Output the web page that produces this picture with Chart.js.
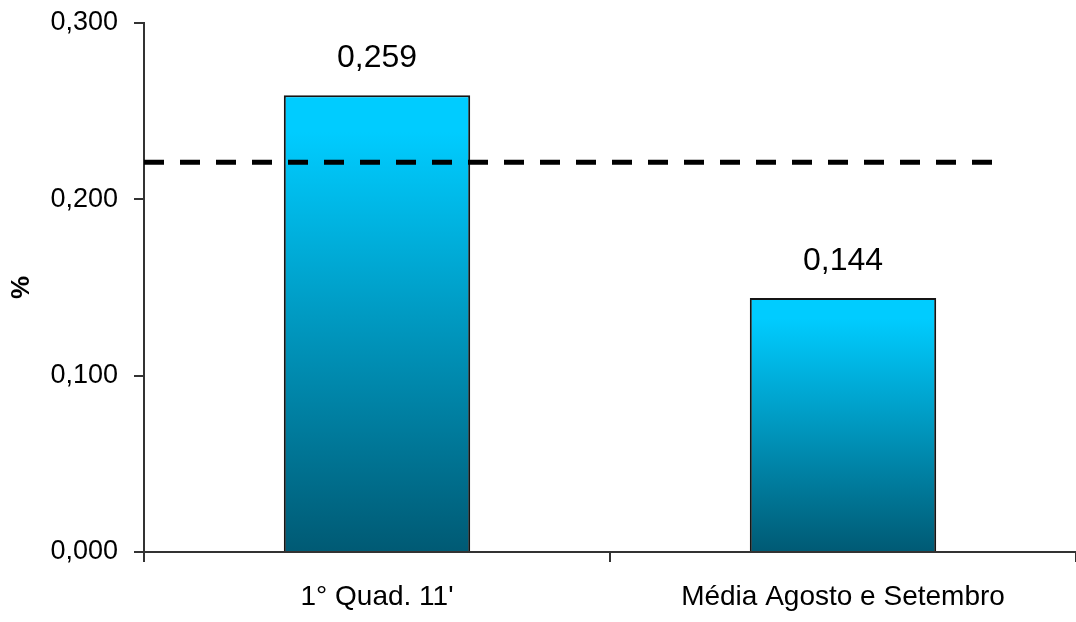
<!DOCTYPE html>
<html>
<head>
<meta charset="utf-8">
<script src="https://cdn.jsdelivr.net/npm/chart.js@4"></script>
<style>
  html, body { margin: 0; padding: 0; background: #fff; }
  #wrap { width: 1076px; height: 622px; }
</style>
</head>
<body>
<div id="wrap"><canvas id="chart" width="1076" height="622"></canvas></div>
<script>
// values
const categories = ['1° Quad. 11\'', 'Média Agosto e Setembro'];
const values = [0.259, 0.144];
const yTicks = [0, 0.1, 0.2, 0.3];
const refLevel = 0.221;
// dashed reference line spans from the axis to just past the second bar
const refSpan = [-0.5, 1.33];

const FONT = '"Liberation Sans", Arial, sans-serif';

function fmt(v) {
  return v.toFixed(3).replace('.', ',');
}

function barGradient(ctx) {
  const chart = ctx.chart;
  if (!chart.chartArea || ctx.type !== 'data') return '#00ccff';
  const y = chart.scales.y;
  const top = y.getPixelForValue(ctx.raw);
  const bottom = y.getPixelForValue(0);
  const g = chart.ctx.createLinearGradient(0, top, 0, bottom);
  g.addColorStop(0, '#00ccff');
  g.addColorStop(0.08, '#00ccff');
  g.addColorStop(1, '#005a74');
  return g;
}

const valueLabels = {
  id: 'valueLabels',
  afterDatasetsDraw(chart) {
    const meta = chart.getDatasetMeta(1);
    const c = chart.ctx;
    c.save();
    c.font = '32px ' + FONT;
    c.fillStyle = '#000';
    c.textAlign = 'center';
    c.textBaseline = 'middle';
    meta.data.forEach((bar, i) => {
      c.fillText(fmt(values[i]), bar.x, bar.y - 37);
    });
    c.restore();
  }
};

new Chart(document.getElementById('chart'), {
  type: 'bar',
  data: {
    labels: categories,
    datasets: [
      {
        type: 'line',
        xAxisID: 'xLine',
        data: refSpan.map(x => ({ x, y: refLevel })),
        borderColor: '#000',
        borderWidth: 5,
        borderDash: [20, 16],
        pointRadius: 0,
        order: 0,
      },
      {
        type: 'bar',
        xAxisID: 'x',
        data: values,
        backgroundColor: barGradient,
        borderColor: '#151515',
        borderWidth: 2,
        grouped: false,
        categoryPercentage: 0.8,
        barPercentage: 0.5,
        order: 1,
      },
    ],
  },
  options: {
    responsive: false,
    animation: false,
    layout: { padding: { top: 23, right: 0, bottom: 0, left: 0 } },
    plugins: { legend: { display: false }, tooltip: { enabled: false } },
    scales: {
      x: {
        type: 'category',
        grid: { drawOnChartArea: false, drawTicks: true, tickLength: 10, color: '#333', lineWidth: 2 },
        border: { display: true, color: '#333', width: 2 },
        ticks: { color: '#000', font: { family: FONT, size: 28 }, padding: 18, maxRotation: 0 },
        afterFit(scale) { scale.height = 70; },
      },
      xLine: {
        type: 'linear',
        display: false,
        offset: false,
        min: -0.5,
        max: 1.5,
      },
      y: {
        min: 0,
        max: 0.3,
        afterBuildTicks(scale) { scale.ticks = yTicks.map(v => ({ value: v })); },
        grid: { drawOnChartArea: false, drawTicks: true, tickLength: 10, color: '#333', lineWidth: 2 },
        border: { display: true, color: '#333', width: 2 },
        ticks: { color: '#000', font: { family: FONT, size: 27 }, padding: 16, callback: v => fmt(v) },
        title: { display: true, text: '%', color: '#000', font: { family: FONT, size: 26, weight: 'bold' }, padding: { top: 6, bottom: 0 } },
        afterFit(scale) {
          scale.width = 144;
          scale.paddingTop = 0;
          scale.paddingBottom = 0;
        },
      },
    },
  },
  plugins: [valueLabels],
});
</script>
</body>
</html>
